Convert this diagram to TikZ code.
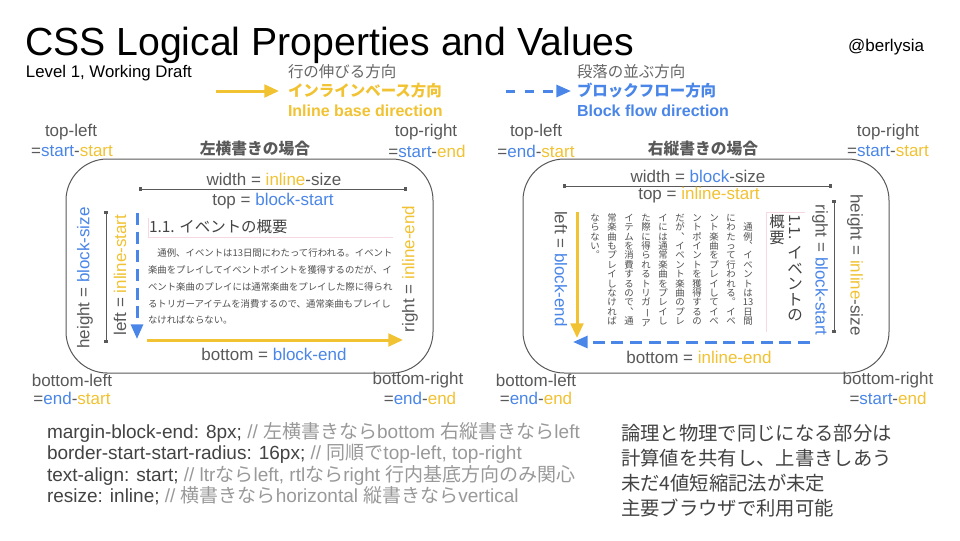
\documentclass[tikz,border=0pt]{standalone}
\usepackage{fontspec}
\usepackage{graphicx}
\setmainfont{Liberation Sans}
\newfontfamily\jp{Noto Sans CJK JP}
\usetikzlibrary{arrows.meta}
\definecolor{tgray}{HTML}{595959}
\definecolor{dgray}{HTML}{434343}
\definecolor{cgray}{HTML}{999999}
\definecolor{lgray}{HTML}{666666}
\definecolor{bgray}{HTML}{505050}
\definecolor{ylw}{HTML}{F1C232}
\definecolor{blu}{HTML}{4A86E8}
\definecolor{pnk}{HTML}{F6D8E2}
\newcommand\Yc[1]{\textcolor{ylw}{#1}}
\newcommand\Bc[1]{\textcolor{blu}{#1}}
\newcommand\vln[1]{\rotatebox[origin=c]{-90}{#1}}
\makeatletter
\newcommand\vtext[1]{\vbox{\offinterlineskip\@tfor\vt@c:=#1\do{\hbox to 1em{\vrule height .88em depth .12em width 0pt\hss\vt@c\hss}}}}
\makeatother
\tikzset{
  lbl/.style={text=tgray, font=\fontsize{12.75}{15}\selectfont},
  boxtitle/.style={text=tgray, font=\jp\bfseries\fontsize{11.8}{14}\selectfont},
  legjp/.style={text=lgray, font=\jp\fontsize{11.6}{14}\selectfont},
  legjpb/.style={font=\jp\bfseries\fontsize{11.6}{14}\selectfont},
  legen/.style={font=\bfseries\fontsize{12}{14}\selectfont},
  body/.style={text=bgray, font=\jp\fontsize{7.05}{8}\selectfont},
  headjp/.style={text=dgray, font=\jp\fontsize{11.6}{14}\selectfont},
  code/.style={text=dgray, font=\fontsize{14.25}{17}\selectfont},
  note/.style={text=dgray, font=\jp\fontsize{14.5}{17}\selectfont},
  frame/.style={draw=tgray, line width=0.75pt, rounded corners=31pt},
  dimline/.style={draw=tgray, line width=0.75pt, {Square[length=2.6pt,width=2.6pt]}-{Square[length=2.6pt,width=2.6pt]}},
  yarr/.style={draw=ylw, line width=2.25pt, -{Triangle[length=11pt,width=9.5pt]}},
  barr/.style={draw=blu, line width=2.25pt, dash pattern=on 8pt off 5pt, -{Triangle[length=11pt,width=9pt]}},
  pinkline/.style={draw=pnk, line width=0.75pt}
}
\begin{document}
\begin{tikzpicture}[x=0.75pt,y=-0.75pt, every node/.style={inner sep=0pt, outer sep=0pt}]
\fill[white] (0,0) rectangle (960,540);
\path[use as bounding box] (0,0) rectangle (960,540);

% header
\node[anchor=base west, font=\fontsize{29.4}{34}\selectfont] (title) at (25,55) {CSS Logical Properties and Values};
\node[anchor=base west, font=\fontsize{12.6}{15}\selectfont] (sub) at (26,77) {Level 1, Working Draft};
\node[anchor=base east, font=\fontsize{12.75}{15}\selectfont] (auth) at (924,51) {@berlysia};

% legend
\coordinate (ly1) at (216,91); \coordinate (ly2) at (279,91);
\draw[yarr] (ly1) -- (ly2);
\node[legjp, anchor=west] (lyt1) at (288,72) {行の伸びる方向};
\node[legjpb, text=ylw, anchor=west] (lyt2) at (288,91) {インラインベース方向};
\node[legen, text=ylw, anchor=base west] (lyt3) at (288,116) {Inline base direction};
\coordinate (lb1) at (506,91); \coordinate (lb2) at (571,91);
\draw[barr, dash pattern=on 7pt off 7pt] (lb1) -- (lb2);
\node[legjp, anchor=west] (lbt1) at (577,72) {段落の並ぶ方向};
\node[legjpb, text=blu, anchor=west] (lbt2) at (577,91) {ブロックフロー方向};
\node[legen, text=blu, anchor=base west] (lbt3) at (577,116) {Block flow direction};

% ===== left box =====
\draw[frame] (66,159) rectangle (433,373);
\node[boxtitle] (lt) at (255,149) {左横書きの場合};
\node[lbl] (ltl1) at (71,132) {top-left};
\node[lbl] (ltl2) at (72,151) {=\Bc{start}-\Yc{start}};
\node[lbl] (ltr1) at (426,132) {top-right};
\node[lbl] (ltr2) at (427,151) {=\Bc{start}-\Yc{end}};
\node[lbl] (lbl1) at (72,380) {bottom-left};
\node[lbl] (lbl2) at (72,398) {=\Bc{end}-\Yc{start}};
\node[lbl] (lbr1) at (418,380) {bottom-right};
\node[lbl] (lbr2) at (420,398) {=\Bc{end}-\Yc{end}};

\node[lbl] (lw) at (274,179) {width = \Yc{inline}-size};
\coordinate (lwd1) at (139,189); \coordinate (lwd2) at (407,189);
\draw[dimline] (lwd1) -- (lwd2);
\node[lbl] (ltop) at (273,201) {top = \Bc{block-start}};
\coordinate (lhd1) at (106,211); \coordinate (lhd2) at (106,343);
\draw[dimline] (lhd1) -- (lhd2);
\node[lbl, rotate=90] (lh) at (85,278) {height = \Bc{block-size}};
\node[lbl, rotate=90] (lleft) at (120,275) {left = \Yc{inline-start}};
\node[lbl, rotate=90] (lright) at (410,269) {right = \Yc{inline-end}};
\node[lbl] (lbot) at (274,354) {bottom = \Bc{block-end}};
\coordinate (lba1) at (137,213); \coordinate (lba2) at (137,339);
\draw[barr, dash pattern=on 9pt off 5pt] (lba1) -- (lba2);
\coordinate (lya1) at (147,340); \coordinate (lya2) at (403,340);
\draw[yarr] (lya1) -- (lya2);

\coordinate (lp1) at (148,218); \coordinate (lp2) at (148,237); \coordinate (lp3) at (393,237);
\draw[pinkline] (lp1) -- (lp2) -- (lp3);
\node[headjp, anchor=west] (lhead) at (149,227) {1.1. イベントの概要};
\node[body, anchor=west] (lb1t) at (148,253) {　通例、イベントは13日間にわたって行われる。イベント};
\node[body, anchor=west] (lb2t) at (148,270) {楽曲をプレイしてイベントポイントを獲得するのだが、イ};
\node[body, anchor=west] (lb3t) at (148,287) {ベント楽曲のプレイには通常楽曲をプレイした際に得られ};
\node[body, anchor=west] (lb4t) at (148,304) {るトリガーアイテムを消費するので、通常楽曲もプレイし};
\node[body, anchor=west] (lb5t) at (148,320) {なければならない。};

% ===== right box =====
\draw[frame] (523,159) rectangle (889,373);
\node[boxtitle] (rt) at (703,149) {右縦書きの場合};
\node[lbl] (rtl1) at (536,132) {top-left};
\node[lbl] (rtl2) at (536,151) {=\Bc{end}-\Yc{start}};
\node[lbl] (rtr1) at (888,132) {top-right};
\node[lbl] (rtr2) at (888,151) {=\Bc{start}-\Yc{start}};
\node[lbl] (rbl1) at (536,380) {bottom-left};
\node[lbl] (rbl2) at (536,398) {=\Bc{end}-\Yc{end}};
\node[lbl] (rbr1) at (888,380) {bottom-right};
\node[lbl] (rbr2) at (888,398) {=\Bc{start}-\Yc{end}};

\node[lbl] (rw) at (698,176) {width = \Bc{block}-size};
\coordinate (rwd1) at (563,186); \coordinate (rwd2) at (832,186);
\draw[dimline] (rwd1) -- (rwd2);
\node[lbl] (rtop) at (699,195) {top = \Yc{inline-start}};
\coordinate (rhd1) at (834,200); \coordinate (rhd2) at (834,333);
\draw[dimline] (rhd1) -- (rhd2);
\node[lbl, rotate=-90] (rh) at (855,265) {height = \Yc{inline}-size};
\node[lbl, rotate=-90] (rright) at (820,270) {right = \Bc{block-start}};
\node[lbl, rotate=-90] (rleft) at (561,269) {left = \Bc{block-end}};
\node[lbl] (rbot) at (699,357) {bottom = \Yc{inline-end}};
\coordinate (rya1) at (577,212); \coordinate (rya2) at (577,338);
\draw[yarr] (rya1) -- (rya2);
\coordinate (rba1) at (810,342); \coordinate (rba2) at (573,342);
\draw[barr, dash pattern=on 9pt off 5pt] (rba1) -- (rba2);

\coordinate (rp1) at (805,212); \coordinate (rp2) at (766,212); \coordinate (rp3) at (766,332);
\draw[pinkline] (rp1) -- (rp2) -- (rp3);
\node[headjp, rotate=-90, anchor=west] (rh1) at (795,214) {1.1.};
\node[headjp, anchor=north] (rh2) at (795,245) {\vtext{イベントの}};
\node[headjp, anchor=north] (rh3) at (777,214) {\vtext{概要}};

\node[body, anchor=north] (rc1) at (748,213) {\vtext{　通例︑イベントは{13}日間}};
\node[body, anchor=north] (rc2) at (731,213) {\vtext{にわたって行われる︒イベ}};
\node[body, anchor=north] (rc3) at (714,213) {\vtext{ント楽曲をプレイしてイベ}};
\node[body, anchor=north] (rc4) at (697,213) {\vtext{ントポイントを獲得するの}};
\node[body, anchor=north] (rc5) at (680,213) {\vtext{だが︑イベント楽曲のプレ}};
\node[body, anchor=north] (rc6) at (663,213) {\vtext{イには通常楽曲をプレイし}};
\node[body, anchor=north] (rc7) at (646,213) {\vtext{た際に得られるトリガ{\vln{ー}}ア}};
\node[body, anchor=north] (rc8) at (629,213) {\vtext{イテムを消費するので︑通}};
\node[body, anchor=north] (rc9) at (612,213) {\vtext{常楽曲もプレイしなければ}};
\node[body, anchor=north] (rc10) at (595,213) {\vtext{ならない︒}};

% ===== bottom text =====
\node[code, anchor=base west] (c1) at (47,438) {margin-block-end: 8px; \textcolor{cgray}{// {\jp 左横書きなら}bottom {\jp 右縦書きなら}left}};
\node[code, anchor=base west] (c2) at (47,459.5) {border-start-start-radius: 16px; \textcolor{cgray}{// {\jp 同順で}top-left, top-right}};
\node[code, anchor=base west] (c3) at (47,481) {text-align: start; \textcolor{cgray}{// ltr{\jp なら}left, rtl{\jp なら}right {\jp 行内基底方向のみ関心}}};
\node[code, anchor=base west] (c4) at (47,502.5) {resize: inline; \textcolor{cgray}{// {\jp 横書きなら}horizontal {\jp 縦書きなら}vertical}};

\node[note, anchor=west] (n1) at (621,433) {論理と物理で同じになる部分は};
\node[note, anchor=west] (n2) at (621,458) {計算値を共有し、上書きしあう};
\node[note, anchor=west] (n3) at (621,483) {未だ4値短縮記法が未定};
\node[note, anchor=west] (n4) at (621,508) {主要ブラウザで利用可能};
\end{tikzpicture}
\end{document}
